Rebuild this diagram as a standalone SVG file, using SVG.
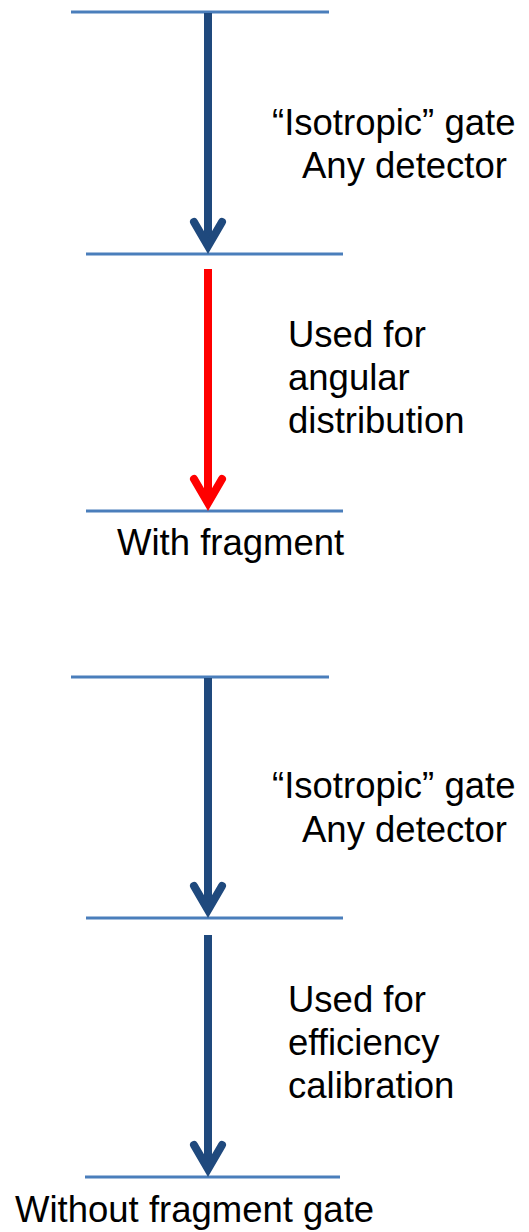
<svg xmlns="http://www.w3.org/2000/svg" width="529" height="1232" viewBox="0 0 529 1232">
  <style>
    .level { stroke: #4a7ebb; stroke-width: 2.8; fill: none; }
    .shaft { stroke-width: 8; fill: none; }
    .head { stroke-width: 8; fill: none; stroke-linecap: round; stroke-linejoin: miter; stroke-miterlimit: 10; }
    .blue { stroke: #1f497d; }
    .red { stroke: #ff0000; }
    text { font-family: "Liberation Sans", Arial, sans-serif; font-size: 36.5px; fill: #000; }
  </style>

  <!-- upper cascade: energy levels -->
  <g id="level-1"><line class="level" x1="71" y1="12" x2="329" y2="12"/></g>
  <g id="level-2"><line class="level" x1="86" y1="254" x2="343" y2="254"/></g>
  <g id="level-3">
    <line class="level" x1="86" y1="511" x2="343" y2="511"/>
    <text x="117" y="555">With fragment</text>
  </g>

  <!-- lower cascade: energy levels -->
  <g id="level-4"><line class="level" x1="71" y1="677" x2="329" y2="677"/></g>
  <g id="level-5"><line class="level" x1="86" y1="918" x2="343" y2="918"/></g>
  <g id="level-6">
    <line class="level" x1="85" y1="1177" x2="340" y2="1177"/>
    <text x="15" y="1222">Without fragment gate</text>
  </g>

  <!-- transition labels -->
  <g id="label-gate-1">
    <text x="272" y="135">“Isotropic” gate</text>
    <text x="302" y="178">Any detector</text>
  </g>
  <g id="label-angular">
    <text x="288" y="347">Used for</text>
    <text x="288" y="390">angular</text>
    <text x="288" y="433">distribution</text>
  </g>
  <g id="label-gate-2">
    <text x="272" y="798">“Isotropic” gate</text>
    <text x="302" y="842">Any detector</text>
  </g>
  <g id="label-efficiency">
    <text x="288" y="1012">Used for</text>
    <text x="288" y="1055">efficiency</text>
    <text x="288" y="1098">calibration</text>
  </g>

  <!-- transitions -->
  <g id="connectors">
    <g id="gamma-1">
      <line class="shaft blue" x1="208" y1="13" x2="208" y2="246"/>
      <path class="head blue" d="M194 222 L208 246 L222 222"/>
    </g>
    <g id="gamma-2">
      <line class="shaft red" x1="208" y1="269" x2="208" y2="503"/>
      <path class="head red" d="M194 479 L208 503 L222 479"/>
    </g>
    <g id="gamma-3">
      <line class="shaft blue" x1="208" y1="678" x2="208" y2="910"/>
      <path class="head blue" d="M194 886 L208 910 L222 886"/>
    </g>
    <g id="gamma-4">
      <line class="shaft blue" x1="208" y1="935" x2="208" y2="1169"/>
      <path class="head blue" d="M194 1145 L208 1169 L222 1145"/>
    </g>
  </g>
</svg>
